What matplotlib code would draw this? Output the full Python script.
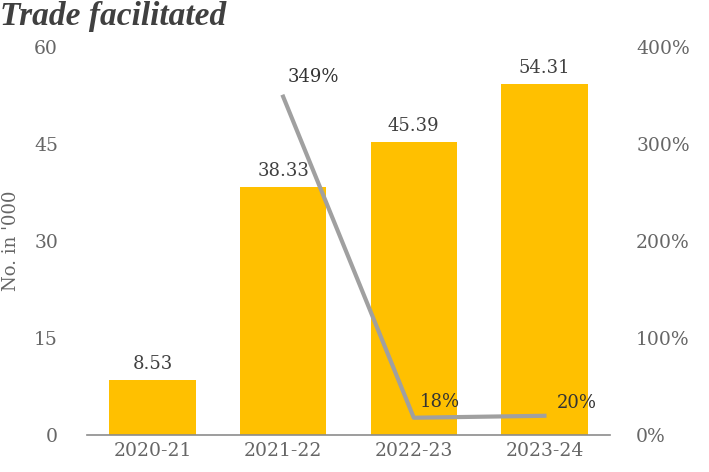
import matplotlib.pyplot as plt

years = ['2020-21', '2021-22', '2022-23', '2023-24']
trade = [8.53, 38.33, 45.39, 54.31]
growth_years = ['2021-22', '2022-23', '2023-24']
growth = [349, 18, 20]
growth_labels = ['349%', '18%', '20%']

plt.rcParams['font.family'] = 'DejaVu Serif'
txt = '#666666'
dark = '#404040'

fig = plt.figure(figsize=(7.09, 4.72), dpi=100)
ax = fig.add_axes([0.123, 0.078, 0.737, 0.822])
ax2 = ax.twinx()

x = list(range(len(years)))
ax.bar(x, trade, width=0.66, color='#FFC000', zorder=2)
for xi, v in zip(x, trade):
    ax.annotate(f'{v:.2f}', (xi, v), xytext=(0, 5), textcoords='offset points',
                ha='center', va='bottom', fontsize=13, color=dark)

ax.set_xlim(-0.5, 3.5)
ax.set_ylim(0, 60)
ax.set_yticks([0, 15, 30, 45, 60])
ax.set_xticks(x)
ax.set_xticklabels(years)
ax.tick_params(length=0, colors=txt, labelsize=13.5)
ax.tick_params(axis='y', pad=21)
ax.tick_params(axis='x', pad=5)
for s in ['top', 'left', 'right']:
    ax.spines[s].set_visible(False)
ax.spines['bottom'].set_color('#8c8c8c')
ax.spines['bottom'].set_linewidth(1.2)

gx = [years.index(g) for g in growth_years]
ax2.plot(gx, growth, color='#a0a0a0', lw=3, zorder=3)
ax2.set_ylim(0, 400)
ax2.set_yticks([0, 100, 200, 300, 400])
ax2.set_yticklabels([f'{t}%' for t in [0, 100, 200, 300, 400]])
ax2.tick_params(length=0, colors=txt, labelsize=13.5, pad=19)
for s in ['top', 'left', 'right', 'bottom']:
    ax2.spines[s].set_visible(False)
offs = [(22, 14), (19, 11), (23, 9)]
for xi, v, lab, o in zip(gx, growth, growth_labels, offs):
    ax2.annotate(lab, (xi, v), xytext=o, textcoords='offset points',
                 ha='center', va='center', fontsize=13, color='#333333')

fig.text(0.016, 0.49, "No. in '000", rotation=90, ha='center', va='center',
         fontsize=13, color=txt)
fig.text(0.0, 0.997, 'Trade facilitated', ha='left', va='top', fontsize=24,
         style='italic', fontweight='bold', color=dark,
         family='Liberation Serif')

fig.savefig('out.png', dpi=100)
